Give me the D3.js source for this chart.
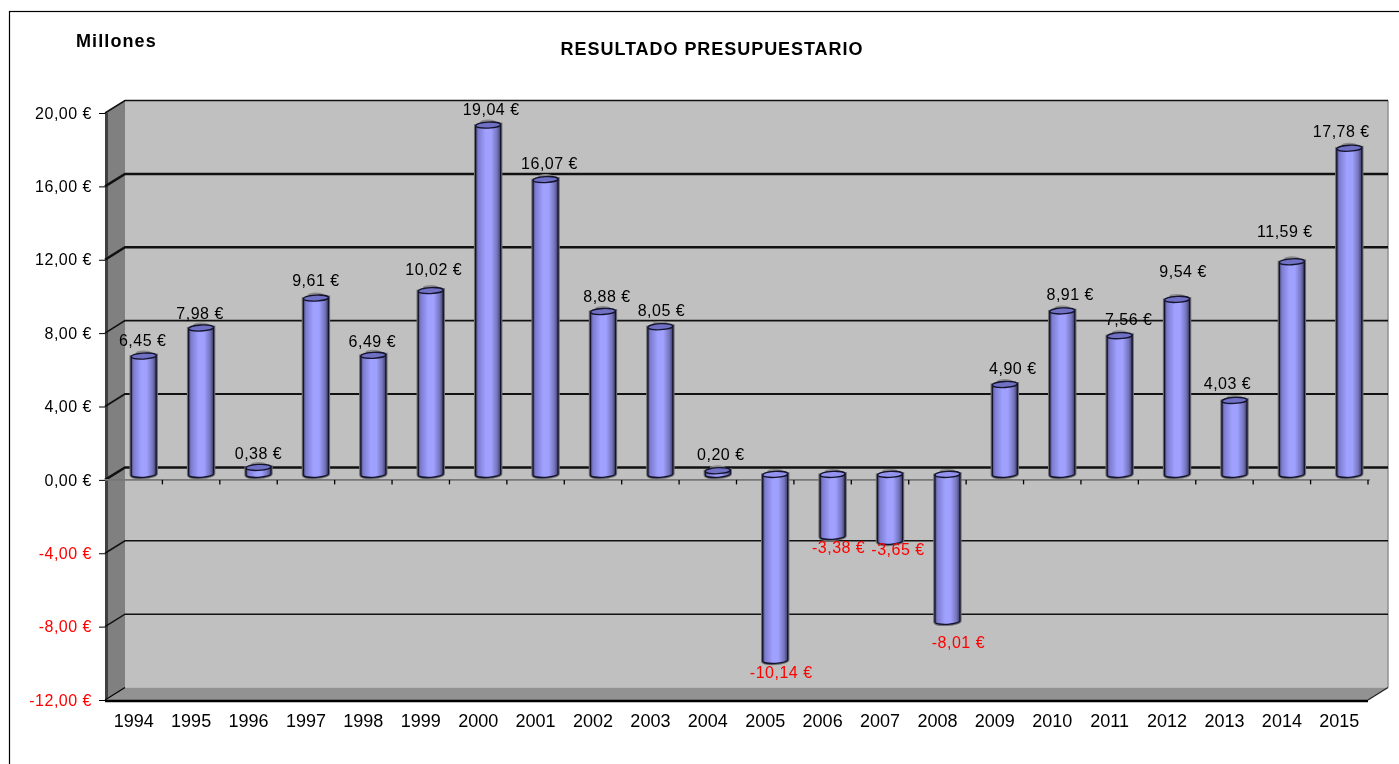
<!DOCTYPE html>
<html>
<head>
<meta charset="utf-8">
<script src="https://cdn.jsdelivr.net/npm/d3@7"></script>
<style>
html, body { margin: 0; padding: 0; background: #fff; overflow: hidden; }
text { font-family: "Liberation Sans", Arial, sans-serif; }
svg { filter: blur(0.35px); }
</style>
</head>
<body>
<div id="chart"></div>
<script>
const years = ["1994","1995","1996","1997","1998","1999","2000","2001","2002","2003","2004",
    "2005","2006","2007","2008","2009","2010","2011","2012","2013","2014","2015"];
const values = [6.45,7.98,0.38,9.61,6.49,10.02,19.04,16.07,8.88,8.05,0.20,
    -10.14,-3.38,-3.65,-8.01,4.90,8.91,7.56,9.54,4.03,11.59,17.78];
const yTicks = [20,16,12,8,4,0,-4,-8,-12];
const gridWidths = [1.5,2.5,2.5,1.6,1.8,2.5,1.5,1.5,0];

// hand placed label nudges, the source chart has them scattered
const labelDx = [-1,-1,0,0,-1,3,3,4,4,1,3,6,6,8,11,8,8,9,6,-7,-7,-8];
const labelDy = [-1.5,0.5,0.5,-3.5,0.5,-6.5,-1.5,-1.5,0,-1.5,-1.5,
    -1.5,-2.5,-5.5,7.5,-1.5,-1.5,-1.5,-13.5,-2.5,-15.5,-2.5];

const width = 1399, height = 764;
const depthX = 20, depthY = -12.5;   // 3d depth of the plot box
const barDx = 10, barDy = -5.5;      // bars stand mid depth
const barW = 25, ry = 3;

const svg = d3.select("#chart").append("svg")
    .attr("width", width)
    .attr("height", height)
    .style("display", "block");

const x = d3.scaleBand().domain(years).range([105, 1368]);
const y = d3.scaleLinear().domain([-12, 20]).range([700, 113]);

const fmt = d3.formatLocale({decimal: ",", thousands: ".", grouping: [3], currency: ["", " €"], minus: "-"}).format(".2f");
const euro = v => `${fmt(v)} €`;

const defs = svg.append("defs");
const grad = defs.append("linearGradient").attr("id", "cyl");
[[0, "#4a4a78"], [0.1, "#7c7cd0"], [0.4, "#a0a0ff"], [0.62, "#a0a0ff"], [0.86, "#7474bc"], [1, "#3c3c66"]]
    .forEach(s => grad.append("stop").attr("offset", s[0]).attr("stop-color", s[1]));

// frame
svg.append("rect")
    .attr("x", 9.5).attr("y", 11.5)
    .attr("width", 1500).attr("height", 900)
    .attr("fill", "#fff")
    .attr("stroke", "#000").attr("stroke-width", 1.2);

const x0 = x.range()[0], x1 = x.range()[1];
const yTop = y(20), yBot = y(-12);

// back wall
svg.append("rect")
    .attr("x", x0 + depthX).attr("y", yTop + depthY)
    .attr("width", x1 - x0).attr("height", yBot - yTop)
    .attr("fill", "#c0c0c0");
svg.append("line")
    .attr("x1", x1 + depthX).attr("x2", x1 + depthX)
    .attr("y1", yTop + depthY).attr("y2", yBot + depthY)
    .attr("stroke", "#909090").attr("stroke-width", 1.5);

// side wall
svg.append("path")
    .attr("d", `M${x0},${yTop}L${x0 + depthX},${yTop + depthY}V${yBot + depthY}L${x0},${yBot}Z`)
    .attr("fill", "#808080");
svg.append("line")
    .attr("x1", x0 + 1.5).attr("x2", x0 + 1.5).attr("y1", yTop).attr("y2", yBot)
    .attr("stroke", "#404040").attr("stroke-width", 3);

// floor
svg.append("path")
    .attr("d", `M${x0},${yBot}L${x0 + depthX},${yBot + depthY}H${x1 + depthX}L${x1},${yBot}Z`)
    .attr("fill", "#929292");
svg.append("line")
    .attr("x1", x0).attr("x2", x1).attr("y1", yBot + 1).attr("y2", yBot + 1)
    .attr("stroke", "#000").attr("stroke-width", 2.5);
svg.append("line")
    .attr("x1", x1).attr("x2", x1 + depthX).attr("y1", yBot).attr("y2", yBot + depthY)
    .attr("stroke", "#222").attr("stroke-width", 1.3);

// grid lines, heavier above zero
const grid = svg.append("g");
yTicks.forEach((t, i) => {
    if (!gridWidths[i]) {
        grid.append("line")
            .attr("x1", x0).attr("x2", x0 + depthX)
            .attr("y1", y(t)).attr("y2", y(t) + depthY)
            .attr("stroke", "#000").attr("stroke-width", 1.2);
        return;
    }
    grid.append("path")
        .attr("d", `M${x0},${y(t)}L${x0 + depthX},${y(t) + depthY}H${x1 + depthX}`)
        .attr("fill", "none")
        .attr("stroke", "#111")
        .attr("stroke-width", gridWidths[i]);
});

// front edge of the zero plane and the year ticks hanging from it
svg.append("line")
    .attr("x1", x0).attr("x2", x1 + 2).attr("y1", y(0)).attr("y2", y(0))
    .attr("stroke", "#777").attr("stroke-width", 1.8);
svg.append("g").selectAll("line")
    .data(years)
    .join("line")
    .attr("x1", d => x(d) + x.step()).attr("x2", d => x(d) + x.step())
    .attr("y1", y(0)).attr("y2", y(0) + 4.5)
    .attr("stroke", "#000").attr("stroke-width", 1.3);

// axes
const yAxis = svg.append("g")
    .attr("transform", `translate(${x0},0)`)
    .call(d3.axisLeft(y).tickValues(yTicks).tickFormat(euro).tickSize(6).tickPadding(7));
yAxis.select(".domain").remove();
yAxis.selectAll("text")
    .attr("font-size", 16)
    .attr("letter-spacing", 0.5)
    .attr("fill", d => d < 0 ? "#ff0000" : "#000");

const xAxis = svg.append("g")
    .attr("transform", `translate(0,${yBot})`)
    .call(d3.axisBottom(x).tickSize(0).tickPadding(14));
xAxis.select(".domain").remove();
xAxis.selectAll("text")
    .attr("font-size", 18)
    .attr("fill", "#000");

// cylinders
const data = years.map((year, i) => ({year, value: values[i], i}));
const cx = d => x(d.year) + x.bandwidth() / 2 + barDx;
const topY = d => y(Math.max(d.value, 0)) + barDy;
const botY = d => y(Math.min(d.value, 0)) + barDy;
const bodyPath = d => {
    const l = cx(d) - barW / 2;
    return `M${l},${topY(d) + 0.7}V${botY(d) + 0.7}A${barW / 2},${ry} -3 0 0 ${l + barW},${botY(d) - 0.7}V${topY(d) - 0.7}Z`;
};
const bars = svg.append("g").selectAll("g")
    .data(data)
    .join("g");

// grey halo and the far rim showing behind the tube
bars.append("path")
    .attr("d", bodyPath)
    .attr("fill", "none")
    .attr("stroke", "#6f6f6f")
    .attr("stroke-width", 3.4);
bars.append("ellipse")
    .attr("cx", cx)
    .attr("cy", d => topY(d) - 3)
    .attr("rx", 8)
    .attr("ry", 2.5)
    .attr("fill", "#8c8c8c");

bars.append("path")
    .attr("d", bodyPath)
    .attr("fill", "url(#cyl)")
    .attr("stroke", "#14142c")
    .attr("stroke-width", 1.3);

bars.append("ellipse")
    .attr("cx", 0)
    .attr("cy", 0)
    .attr("transform", d => `translate(${cx(d)},${topY(d)}) rotate(-3)`)
    .attr("rx", barW / 2)
    .attr("ry", ry)
    .attr("fill", d => d.value < 0 ? "#9494f0" : "#7070c4")
    .attr("stroke", "#14142c")
    .attr("stroke-width", 1.3);

// value labels
svg.append("g").selectAll("text")
    .data(data)
    .join("text")
    .attr("x", d => cx(d) + labelDx[d.i])
    .attr("y", d => (d.value < 0 ? y(d.value) + barDy + 19 : y(d.value) + barDy - 9) + labelDy[d.i])
    .attr("text-anchor", "middle")
    .attr("font-size", 16)
    .attr("letter-spacing", 0.5)
    .attr("fill", d => d.value < 0 ? "#ff0000" : "#000")
    .text(d => euro(d.value));

// titles
svg.append("text")
    .attr("x", 76).attr("y", 47)
    .attr("font-size", 18).attr("font-weight", "bold")
    .attr("letter-spacing", 1.1)
    .text("Millones");

svg.append("text")
    .attr("x", 712).attr("y", 55)
    .attr("text-anchor", "middle")
    .attr("font-size", 18).attr("font-weight", "bold")
    .attr("letter-spacing", 0.95)
    .text("RESULTADO PRESUPUESTARIO");
</script>
</body>
</html>
